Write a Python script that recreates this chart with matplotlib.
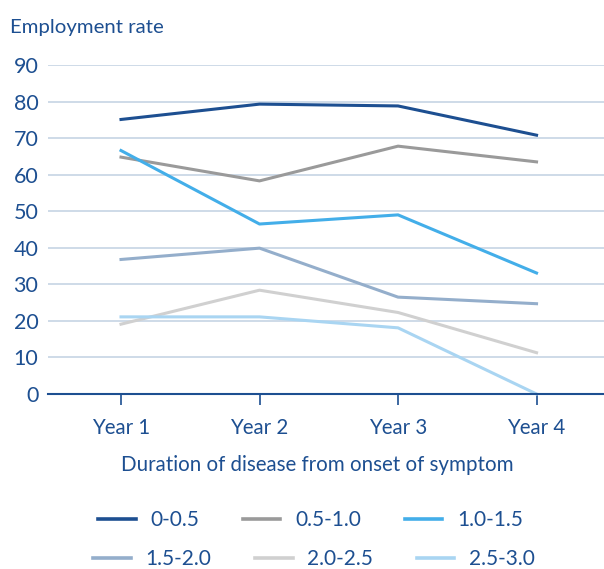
import matplotlib
matplotlib.use("Agg")
import matplotlib.pyplot as plt

years = ["Year 1", "Year 2", "Year 3", "Year 4"]
series_labels = ["0-0.5", "0.5-1.0", "1.0-1.5", "1.5-2.0", "2.0-2.5", "2.5-3.0"]
s_00_05 = [75.1, 79.3, 78.8, 70.8]
s_05_10 = [64.8, 58.3, 67.8, 63.5]
s_10_15 = [66.6, 46.5, 49.0, 33.1]
s_15_20 = [36.8, 39.9, 26.5, 24.7]
s_20_25 = [19.1, 28.4, 22.3, 11.3]
s_25_30 = [21.1, 21.1, 18.1, 0.0]
yticks = [0, 10, 20, 30, 40, 50, 60, 70, 80, 90]

series = [s_00_05, s_05_10, s_10_15, s_15_20, s_20_25, s_25_30]
colors = ["#1d4f91", "#9a9a9a", "#43aee9", "#94aecb", "#d0d0d0", "#a9d5f2"]
text_color = "#1d4f91"
grid_color = "#c6d4e4"

plt.rcParams['font.family'] = ['Lato', 'DejaVu Sans']

fig = plt.figure(figsize=(6.04, 5.69), dpi=100)
ax = fig.add_axes([48/604, 1-394/569, 1-48/604, (394-65)/569])

x = list(range(len(years)))
handles = []
for vals, lab, c in zip(series, series_labels, colors):
    h, = ax.plot(x, vals, color=c, lw=2.2, label=lab, clip_on=False, zorder=3)
    handles.append(h)

ax.set_xlim(-0.527, 3.487)
ax.set_ylim(0, 90)
ax.set_yticks(yticks)
ax.set_yticklabels([str(v) for v in yticks], color=text_color, fontsize=15.5)
for v in yticks[1:]:
    ax.axhline(v, color=grid_color, lw=1.2, zorder=1)

for s in ["top", "right", "left"]:
    ax.spines[s].set_visible(False)
ax.spines["bottom"].set_color(text_color)
ax.spines["bottom"].set_linewidth(1.5)
ax.spines["bottom"].set_zorder(4)

ax.set_xticks(x)
ax.set_xticklabels(years, color=text_color, fontsize=14.8)
ax.tick_params(axis="x", direction="out", length=8, width=1.2, color=text_color, pad=9)
ax.tick_params(axis="y", length=0, pad=7)

fig.text(10/604, 1-28/569, "Employment rate", color=text_color, fontsize=14.7, va="center", ha="left")
fig.text(0.525, 1-465/569, "Duration of disease from onset of symptom", color=text_color,
         fontsize=14.8, va="center", ha="center")

leg_kw = dict(ncol=3, loc="center", frameon=False, fontsize=15,
              handlelength=1.8, handletextpad=0.7, columnspacing=2.1)
leg1 = fig.legend(handles[0:3], series_labels[0:3], bbox_to_anchor=(0.514, 1-520/569), **leg_kw)
leg2 = fig.legend(handles[3:6], series_labels[3:6], bbox_to_anchor=(0.52, 1-559/569), **leg_kw)
for lg in (leg1, leg2):
    for t in lg.get_texts():
        t.set_color(text_color)
    for l in lg.get_lines():
        l.set_linewidth(2.6)

fig.savefig("out.png", dpi=100)
